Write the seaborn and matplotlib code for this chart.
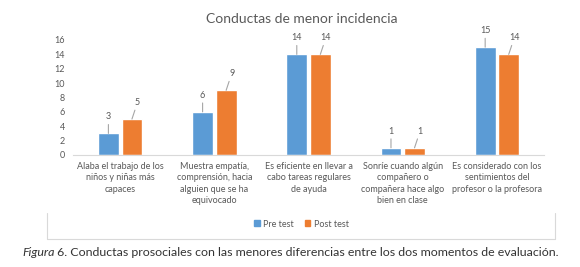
import pandas as pd
import matplotlib.pyplot as plt
import seaborn as sns
from matplotlib.lines import Line2D
from matplotlib.patches import Patch

# chart data
categories = [
    "Alaba el trabajo de los\nniños y niñas más\ncapaces",
    "Muestra empatía,\ncomprensión, hacia\nalguien que se ha\nequivocado",
    "Es eficiente en llevar a\ncabo tareas regulares\nde ayuda",
    "Sonríe cuando algún\ncompañero o\ncompañera hace algo\nbien en clase",
    "Es considerado con los\nsentimientos del\nprofesor o la profesora",
]
pre_test = [3, 6, 14, 1, 15]
post_test = [5, 9, 14, 1, 14]
series_names = ["Pre test", "Post test"]
y_ticks = [0, 2, 4, 6, 8, 10, 12, 14, 16]

BLUE = "#5B9BD5"
ORANGE = "#ED7D31"
GREY_TXT = "#595959"
GREY_LINE = "#D9D9D9"

df = pd.DataFrame({
    "categoria": categories * 2,
    "valor": pre_test + post_test,
    "serie": [series_names[0]] * len(categories) + [series_names[1]] * len(categories),
})

sns.set_style("white")
plt.rcParams['font.family'] = ['Lato', 'DejaVu Sans']

fig = plt.figure(figsize=(5.8, 2.67), dpi=100)
ax = fig.add_axes([0.126, 0.4195, 0.812, 0.4307])

sns.barplot(data=df, x="categoria", y="valor", hue="serie",
            palette=[BLUE, ORANGE], width=0.5, gap=0.12,
            saturation=1, legend=False, ax=ax)

ax.set_xlim(-0.5, len(categories) - 0.5)
ax.set_ylim(0, 16)
ax.set_yticks(y_ticks)
ax.tick_params(axis='y', labelsize=6.5, colors=GREY_TXT, length=0, pad=6)
ax.tick_params(axis='x', labelsize=6.5, colors=GREY_TXT, length=0, pad=5)
for lab in ax.get_xticklabels():
    lab.set_linespacing(1.35)
ax.set_xlabel("")
ax.set_ylabel("")
for side in ["top", "right", "left"]:
    ax.spines[side].set_visible(False)
ax.spines["bottom"].set_color(GREY_LINE)
ax.spines["bottom"].set_linewidth(0.8)

# data labels with leader lines
offsets = [(0, 12), (4, 12)]
for container, values, off in zip(ax.containers, [pre_test, post_test], offsets):
    for bar, v in zip(container, values):
        ax.annotate(str(v), xy=(bar.get_x() + bar.get_width() / 2, bar.get_height()),
                    xytext=off, textcoords="offset points",
                    ha="center", va="center", fontsize=6.5, color=GREY_TXT,
                    arrowprops=dict(arrowstyle="-", color="#A6A6A6", lw=0.8,
                                    shrinkA=0, shrinkB=0))

fig.text(0.52, 0.93, "Conductas de menor incidencia", ha="center", va="center",
         fontsize=10, color=GREY_TXT)

handles = [Patch(color=BLUE), Patch(color=ORANGE)]
fig.legend(handles, series_names, loc="center", bbox_to_anchor=(0.52, 0.161),
           ncol=2, frameon=False, fontsize=6.5, labelcolor=GREY_TXT,
           handlelength=0.6, handleheight=0.6, handletextpad=0.4, columnspacing=1.2)

# faint chart frame
y_frame = 1 - 238.5 / 267
fig.add_artist(Line2D([47 / 580, 555 / 580], [y_frame, y_frame], color=GREY_LINE, lw=0.8))
fig.add_artist(Line2D([47 / 580, 47 / 580], [y_frame, 1 - 213 / 267], color=GREY_LINE, lw=0.8))
fig.add_artist(Line2D([555 / 580, 555 / 580], [y_frame, 1 - 213 / 267], color=GREY_LINE, lw=0.8))

# caption with italic "Figura"
cap_y = 1 - 253 / 267
t1 = fig.text(22 / 580, cap_y, "Figura", fontsize=8.9, style="italic", color="#333333",
              va="center", ha="left")
fig.canvas.draw()
bb = t1.get_window_extent()
x2 = bb.x1 / fig.bbox.width
fig.text(x2, cap_y, " 6. Conductas prosociales con las menores diferencias entre los dos momentos de evaluación.",
         fontsize=8.9, color="#333333", va="center", ha="left")

fig.savefig("out.png", dpi=100)
